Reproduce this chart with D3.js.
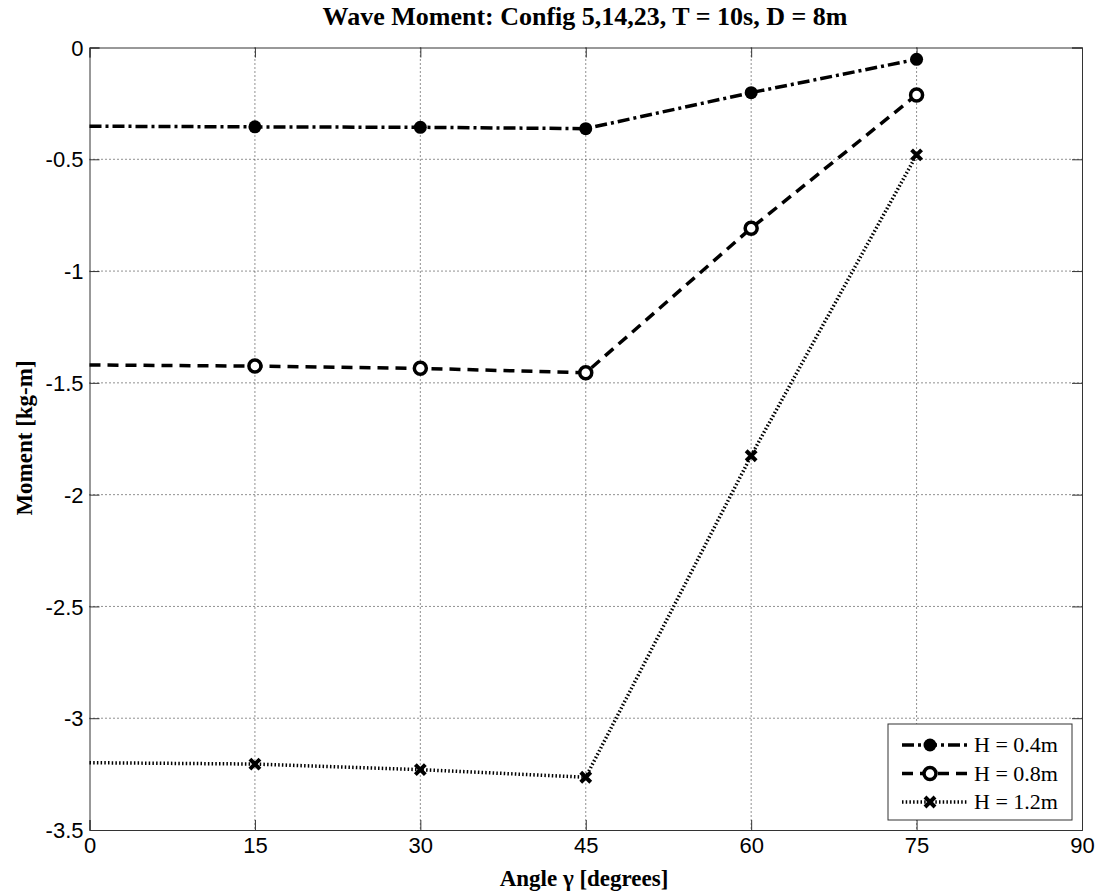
<!DOCTYPE html>
<html>
<head>
<meta charset="utf-8">
<script src="https://cdn.jsdelivr.net/npm/d3@7"></script>
<style>
body{margin:0;background:#fff}
.tick text{font-family:"Liberation Sans",Arial,sans-serif;font-size:22px;fill:#000}
</style>
</head>
<body>
<div id="chart"></div>
<script>
var angles=[0,15,30,45,60,75]
var h04=[-0.352,-0.355,-0.357,-0.363,-0.202,-0.053]
var h08=[-1.42,-1.425,-1.435,-1.455,-0.808,-0.212]
var h12=[-3.199,-3.205,-3.23,-3.264,-1.826,-0.48]
var seriesNames=["H = 0.4m","H = 0.8m","H = 1.2m"]
var xTicks=[0,15,30,45,60,75,90]
var yTicks=[0,-0.5,-1,-1.5,-2,-2.5,-3,-3.5]

var svg=d3.select("#chart").append("svg")
  .attr("width",1107).attr("height",892)

var mLeft=89.5,mRight=1082,mTop=47.5,mBottom=830

var x=d3.scaleLinear().domain([0,90]).range([mLeft,mRight])
var y=d3.scaleLinear().domain([-3.5,0]).range([mBottom,mTop])

// grid
var grid=svg.append("g")
grid.selectAll(".gx").data(xTicks.slice(1,-1)).enter().append("line")
  .attr("x1",d=>x(d)).attr("x2",d=>x(d)).attr("y1",mTop).attr("y2",mBottom)
  .attr("stroke","#222").attr("stroke-width",1).attr("stroke-dasharray","1,3")
grid.selectAll(".gy").data(yTicks.slice(1,-1)).enter().append("line")
  .attr("y1",d=>y(d)).attr("y2",d=>y(d)).attr("x1",mLeft).attr("x2",mRight)
  .attr("stroke","#222").attr("stroke-width",1).attr("stroke-dasharray","1,3")

// axes
var xAxis=d3.axisBottom(x).tickValues(xTicks).tickSize(-10).tickPadding(12).tickFormat(d3.format("d"))
var yAxis=d3.axisLeft(y).tickValues(yTicks).tickSize(-10).tickPadding(6).tickFormat(d=>d==0?"0":String(d))
var gx=svg.append("g").attr("transform","translate(0,"+mBottom+")").call(xAxis)
var gy=svg.append("g").attr("transform","translate("+mLeft+",0)").call(yAxis)
svg.append("g").attr("transform","translate(0,"+mTop+")").call(d3.axisTop(x).tickValues(xTicks).tickSize(-10).tickFormat(""))
svg.append("g").attr("transform","translate("+mRight+",0)").call(d3.axisRight(y).tickValues(yTicks).tickSize(-10).tickFormat(""))
svg.selectAll(".domain").attr("stroke","#333")
svg.selectAll(".tick line").attr("stroke","#333")
gy.selectAll(".tick text").attr("dy","0.35em")
gx.selectAll(".tick text").attr("dy","0.5em")

// series
var series=[
  {name:seriesNames[0],vals:h04,dash:"12,4,3,4",marker:"dot"},
  {name:seriesNames[1],vals:h08,dash:"11,7",marker:"circle"},
  {name:seriesNames[2],vals:h12,dash:"1.5,2.2",marker:"x"}
]
var line=d3.line().x((d,i)=>x(angles[i])).y(d=>y(d))

function drawMarker(g,type,cx,cy){
  if(type=="dot"){
    g.append("circle").attr("cx",cx).attr("cy",cy).attr("r",6.5).attr("fill","#000")
  } else if(type=="circle"){
    g.append("circle").attr("cx",cx).attr("cy",cy).attr("r",6).attr("fill","#fff").attr("stroke","#000").attr("stroke-width",3.5)
  } else {
    var s=5
    g.append("path").attr("d","M"+(cx-s)+","+(cy-s)+"L"+(cx+s)+","+(cy+s)+"M"+(cx-s)+","+(cy+s)+"L"+(cx+s)+","+(cy-s))
      .attr("stroke","#000").attr("stroke-width",4)
  }
}

series.forEach(function(s){
  svg.append("path").datum(s.vals).attr("d",line)
    .attr("fill","none").attr("stroke","#000").attr("stroke-width",3.5)
    .attr("stroke-dasharray",s.dash)
  var mg=svg.append("g")
  s.vals.forEach(function(v,i){
    if(i>0) drawMarker(mg,s.marker,x(angles[i]),y(v))
  })
})

// legend
var lg=svg.append("g")
lg.append("rect").attr("x",888).attr("y",724).attr("width",184).attr("height",96)
  .attr("fill","#fff").attr("stroke","#333").attr("stroke-width",1)
series.forEach(function(s,i){
  var ly=745+i*28.5
  lg.append("line").attr("x1",902).attr("x2",968).attr("y1",ly).attr("y2",ly)
    .attr("stroke","#000").attr("stroke-width",3.5).attr("stroke-dasharray",s.dash)
  drawMarker(lg,s.marker,930,ly)
  lg.append("text").attr("x",974).attr("y",ly+7).text(s.name)
    .style("font-family","'Liberation Serif','Times New Roman',serif").style("font-size","22px")
})

// titles
svg.append("text").attr("x",585).attr("y",25).attr("text-anchor","middle")
  .style("font-family","'Liberation Serif','Times New Roman',serif").style("font-weight","bold").style("font-size","26px")
  .text("Wave Moment: Config 5,14,23, T = 10s, D = 8m")
svg.append("text").attr("x",584).attr("y",886).attr("text-anchor","middle")
  .style("font-family","'Liberation Serif','Times New Roman',serif").style("font-weight","bold").style("font-size","23px")
  .text("Angle γ [degrees]")
svg.append("text").attr("transform","translate(32,438) rotate(-90)").attr("text-anchor","middle")
  .style("font-family","'Liberation Serif','Times New Roman',serif").style("font-weight","bold").style("font-size","23px")
  .text("Moment [kg-m]")
</script>
</body>
</html>
